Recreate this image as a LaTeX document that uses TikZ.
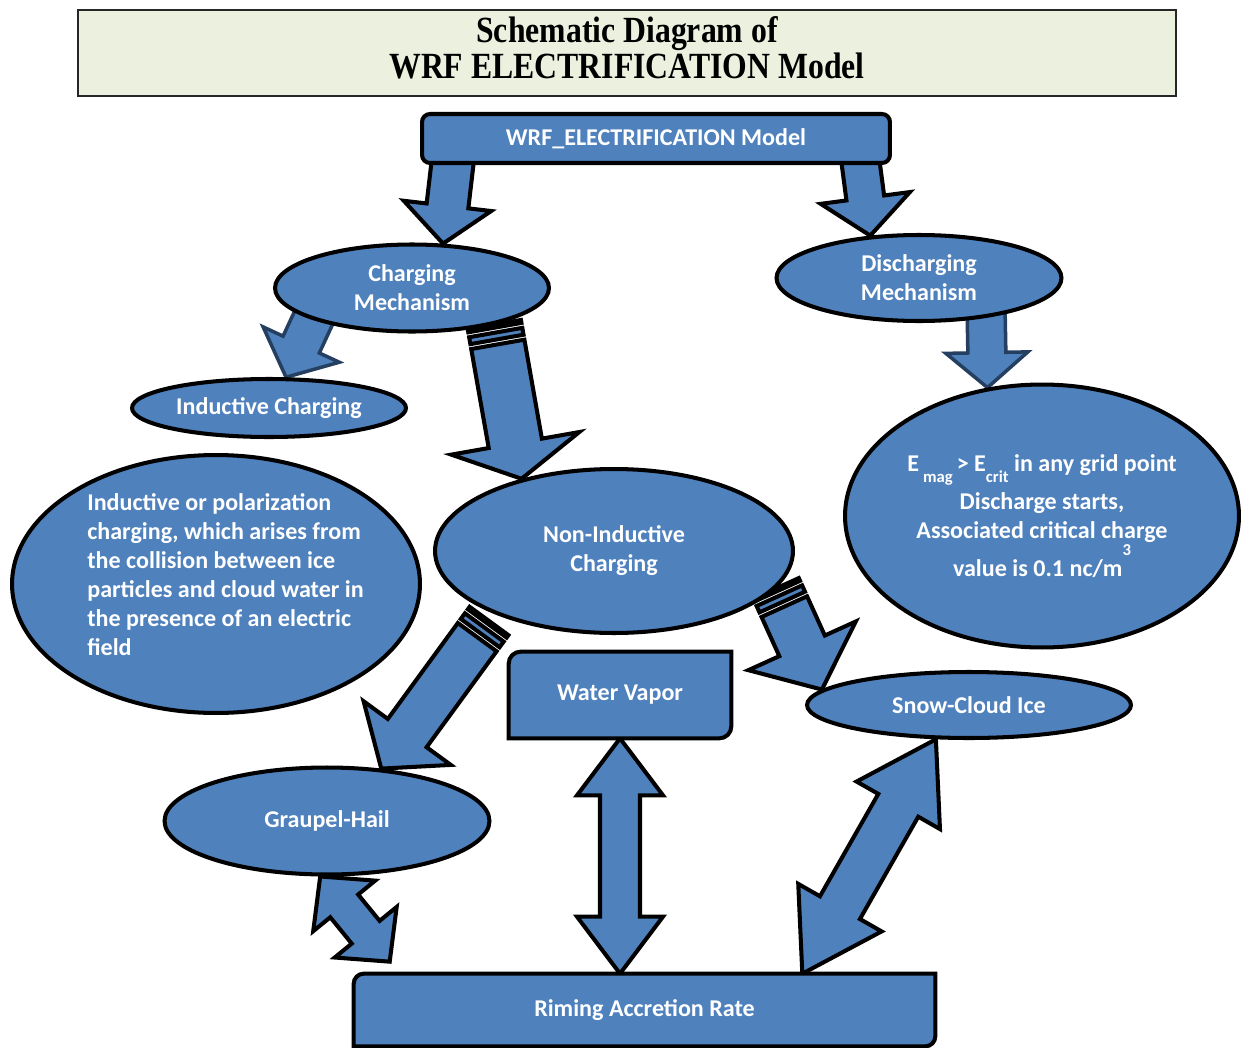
\documentclass[tikz,border=0pt]{standalone}
\usepackage{fontspec}
\usetikzlibrary{calc,shapes.geometric,backgrounds}
\newfontfamily\calibri{Carlito}
\newfontfamily\timesbf{Liberation Serif}
\definecolor{boxblue}{HTML}{4F81BD}
\definecolor{rimnavy}{HTML}{243F60}
\definecolor{titlegreen}{HTML}{EBF1DE}

% block arrow: [style]{tail}{tip}{half shaft}{half head}{head length}
\newcommand{\blockarrow}[6][]{%
  \path ($(#3)!#6!(#2)$) coordinate (ba-neck);
  \draw[arrowbody,#1] ($(#2)!#4!90:(#3)$) -- ($(ba-neck)!#4!90:(#3)$)
    -- ($(ba-neck)!#5!90:(#3)$) -- (#3) -- ($(ba-neck)!#5!-90:(#3)$)
    -- ($(ba-neck)!#4!-90:(#3)$) -- ($(#2)!#4!-90:(#3)$) -- cycle;
}
% same, with two bars at the tail
\newcommand{\stripedarrow}[6][]{%
  \path ($(#2)!0.06cm!(#3)$) coordinate (sa-a) ($(#2)!0.16cm!(#3)$) coordinate (sa-b)
        ($(#2)!0.3cm!(#3)$) coordinate (sa-c) ($(#2)!0.4cm!(#3)$) coordinate (sa-d);
  \draw[arrowbody,#1] ($(#2)!#4!90:(#3)$) -- ($(sa-a)!#4!90:(#3)$)
    -- ($(sa-a)!#4!-90:(#3)$) -- ($(#2)!#4!-90:(#3)$) -- cycle;
  \draw[arrowbody,#1] ($(sa-b)!#4!90:(#3)$) -- ($(sa-c)!#4!90:(#3)$)
    -- ($(sa-c)!#4!-90:(#3)$) -- ($(sa-b)!#4!-90:(#3)$) -- cycle;
  \blockarrow[#1]{sa-d}{#3}{#4}{#5}{#6}
}
% two-headed block arrow
\newcommand{\doublearrow}[6][]{%
  \path ($(#2)!#6!(#3)$) coordinate (da-a) ($(#3)!#6!(#2)$) coordinate (da-b);
  \draw[arrowbody,#1] (#2) -- ($(da-a)!#5!90:(#3)$) -- ($(da-a)!#4!90:(#3)$)
    -- ($(da-b)!#4!90:(#3)$) -- ($(da-b)!#5!90:(#3)$) -- (#3)
    -- ($(da-b)!#5!-90:(#3)$) -- ($(da-b)!#4!-90:(#3)$)
    -- ($(da-a)!#4!-90:(#3)$) -- ($(da-a)!#5!-90:(#3)$) -- cycle;
}
\newcommand{\lowsub}[1]{\smash{\raisebox{-6pt}{\fontsize{9.5}{9.5}\selectfont #1}}}

\begin{document}
\begin{tikzpicture}[x=0.02cm, y=-0.02cm,
    every node/.style={font=\calibri\bfseries\fontsize{13.7}{16.5}\selectfont, text=white},
    blob/.style={ellipse, draw=black, line width=2.3pt, fill=boxblue, inner sep=0pt, align=center},
    slab/.style={rectangle, inner sep=0pt, align=center},
    slabline/.style={draw=black, line width=2.3pt, fill=boxblue},
    arrowbody/.style={draw=black, line width=2.3pt, fill=boxblue, line join=miter},
    darkrim/.style={draw=rimnavy, line width=2pt},
    titlebox/.style={draw=black!85, line width=1.2pt, fill=titlegreen, text=black, align=center,
      font=\timesbf\bfseries\fontsize{21}{21}\selectfont},
]
\useasboundingbox (0,0) rectangle (1241,1048);

\node[titlebox, minimum width=21.96cm, minimum height=1.72cm] (title) at (627,53)
  {\raisebox{0.1cm}{\begin{tabular}{@{}c@{}}\scalebox{0.86}[1]{Schematic Diagram of}\\
   \scalebox{0.86}[1]{WRF ELECTRIFICATION Model}\end{tabular}}};

\node[slab, draw=black, line width=2.3pt, fill=boxblue, rounded corners=0.16cm,
  minimum width=9.36cm, minimum height=0.98cm] (model) at (656,138.5) {WRF\_ELECTRIFICATION Model};

\node[blob, minimum width=5.48cm, minimum height=1.74cm] (charge) at (412,288) {Charging\\Mechanism};
\node[blob, minimum width=5.70cm, minimum height=1.72cm] (discharge) at (919,278) {Discharging\\Mechanism};
\node[blob, minimum width=5.48cm, minimum height=1.16cm] (induct) at (269,408) {Inductive Charging};
\node[blob, minimum width=8.16cm, minimum height=5.16cm] (polar) at (216,584) {};
\node[align=left] (polar-text) at ([xshift=0.19cm,yshift=0.19cm]polar.center)
  {Inductive or polarization\\charging, which arises from\\the collision between ice\\particles and cloud water in\\the presence of an electric\\field};
\node[blob, minimum width=7.16cm, minimum height=3.28cm] (noninduct) at (614,551) {Non-Inductive\\Charging};
\node[blob, minimum width=7.88cm, minimum height=5.26cm] (critical) at (1042,516)
  {E\,\lowsub{mag}\,> E\lowsub{crit}\ in any grid point\\[5pt]
   Discharge starts,\\
   Associated critical charge\\[5pt]
   value is 0.1 nc/m\smash{\raisebox{12pt}{\fontsize{9.5}{9.5}\selectfont 3}}};
\node[blob, minimum width=6.48cm, minimum height=1.32cm] (snow) at (969,705) {Snow-Cloud Ice};
\node[blob, minimum width=6.50cm, minimum height=2.14cm] (graupel) at (327,821) {Graupel-Hail};
\node[slab, minimum width=4.44cm, minimum height=1.72cm] (vapor) at (620,695) {Water Vapor};
\node[slab, minimum width=11.62cm, minimum height=1.44cm] (riming) at (644.5,1010) {Riming Accretion Rate};

\coordinate (m-left) at ([xshift=-4.04cm,yshift=0.3cm]model.south);
\coordinate (m-right) at ([xshift=4.06cm,yshift=0.3cm]model.south);
\coordinate (c-inner) at ([xshift=-1.84cm,yshift=-0.32cm]charge.center);
\coordinate (d-inner) at ([xshift=1.34cm,yshift=-0.54cm]discharge.center);
\coordinate (n-left) at ([xshift=-2.5cm,yshift=-1.4cm]noninduct.center);
\coordinate (g-foot) at ([xshift=0.72cm,yshift=0.24cm]riming.north west);
\coordinate (s-foot) at ([xshift=-2.66cm]riming.north east);
\coordinate (v-foot) at (vapor.south |- riming.north);

\begin{scope}[on background layer]
\blockarrow{m-left}{charge.55}{0.42cm}{0.88cm}{0.76cm}
\blockarrow{m-right}{discharge.139}{0.38cm}{0.9cm}{0.76cm}
\blockarrow[darkrim]{c-inner}{induct.61}{0.4cm}{0.84cm}{0.72cm}
\stripedarrow{charge.336}{noninduct.142}{0.54cm}{1.3cm}{0.72cm}
\blockarrow[darkrim]{d-inner}{critical.113}{0.38cm}{0.82cm}{0.7cm}
\stripedarrow{n-left}{graupel.44}{0.48cm}{1.08cm}{0.88cm}
\stripedarrow{noninduct.347}{snow.174}{0.5cm}{1.18cm}{0.96cm}
\doublearrow{graupel.263}{g-foot}{0.36cm}{0.8cm}{0.76cm}
\doublearrow{vapor.south}{v-foot}{0.4cm}{0.86cm}{1.14cm}
\doublearrow{snow.226}{s-foot}{0.46cm}{0.96cm}{1.52cm}

\draw[slabline] (vapor.west) [rounded corners=0.24cm] |- (vapor.north) [sharp corners] -| (vapor.east)
  [rounded corners=0.24cm] |- (vapor.south) [sharp corners] -| (vapor.west) -- cycle;
\draw[slabline] (riming.west) [rounded corners=0.2cm] |- (riming.north) [sharp corners] -| (riming.east)
  [rounded corners=0.2cm] |- (riming.south) [sharp corners] -| (riming.west) -- cycle;
\end{scope}
\end{tikzpicture}
\end{document}
